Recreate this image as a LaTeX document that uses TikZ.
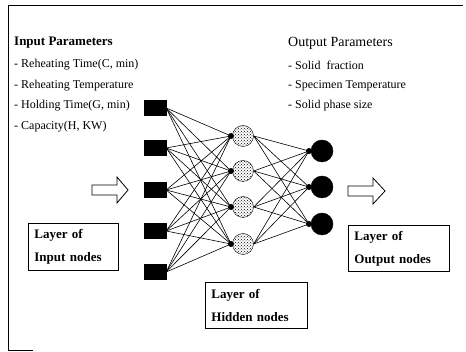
\documentclass[tikz,border=0pt]{standalone}
\usepackage{fontspec}
\setmainfont{Liberation Serif}
\usetikzlibrary{patterns}
\begin{document}
\begin{tikzpicture}[x=1pt,y=-1pt,
  insq/.style={draw,fill=black,minimum width=22pt,minimum height=15pt,inner sep=0pt},
  hid/.style={circle,draw,pattern=crosshatch dots,pattern color=black,minimum size=21pt,inner sep=0pt},
  outn/.style={circle,draw,fill=black,minimum size=22pt,inner sep=0pt},
  jdot/.style={circle,fill=black,minimum size=6pt,inner sep=0pt},
  conn/.style={draw,line width=0.6pt},
  lbox/.style={draw,line width=0.8pt,anchor=north west,align=left,inner xsep=6pt,inner ysep=3pt,
     font=\fontsize{13}{23}\selectfont\bfseries},
  item/.style={anchor=west,inner sep=0pt,font=\fontsize{12}{14}\selectfont},
  barrow/.style={draw,line width=0.8pt,fill=white}]
\useasboundingbox (0,0) rectangle (466,352);
% frame
\draw[line width=0.8pt] (463,5) -- (8,5) -- (8,350) -- (33,350);
% texts
\node[item,font=\fontsize{13}{15}\selectfont\bfseries] (ip) at (14,43) {Input Parameters};
\node[item] (ip1) at (14,65) {- Reheating Time(C, min)};
\node[item] (ip2) at (14,86) {- Reheating Temperature};
\node[item] (ip3) at (14,106) {- Holding Time(G, min)};
\node[item] (ip4) at (14,127) {- Capacity(H, KW)};
\node[item,font=\fontsize{14}{16}\selectfont] (op) at (288,43) {Output Parameters};
\node[item] (op1) at (288,65) {- Solid\ \ fraction};
\node[item] (op2) at (288,86) {- Specimen Temperature};
\node[item] (op3) at (288,106) {- Solid phase size};
% input nodes
\foreach \i/\y in {1/108,2/148,3/190,4/231,5/272}
  \node[insq] (i\i) at (155,\y) {};
% hidden nodes
\foreach \j/\y in {1/136,2/171,3/207,4/244}{
  \node[hid] (h\j) at (243,\y) {};
  \node[jdot] (hd\j) at (231,\y) {};
}
% output nodes
\foreach \k/\y in {1/151,2/187,3/224}{
  \node[outn] (o\k) at (322,\y) {};
  \node[jdot] (od\k) at (309,\y) {};
}
% connections
\foreach \i in {1,...,5}
  \foreach \j in {1,...,4}
    \draw[conn] (i\i.east) -- (hd\j.center);
\foreach \j in {1,...,4}
  \foreach \k in {1,...,3}
    \draw[conn] (h\j.east) -- (od\k.center);
% block arrows
\draw[barrow] (92,185) -- (117,185) -- (117,177) -- (128,190) -- (117,203) -- (117,195) -- (92,195) -- cycle;
\draw[barrow] (348,186) -- (373,186) -- (373,178) -- (385,191) -- (373,204) -- (373,196) -- (348,196) -- cycle;
% label boxes
\node[lbox,text width=78pt,minimum height=47pt] (lin) at (28,223) {Layer of\\Input nodes};
\node[lbox,text width=90pt,minimum height=46pt] (lhid) at (205,282) {Layer of\\Hidden nodes};
\node[lbox,text width=89pt,minimum height=46pt] (lout) at (348,225) {Layer of\\Output nodes};
\end{tikzpicture}
\end{document}
